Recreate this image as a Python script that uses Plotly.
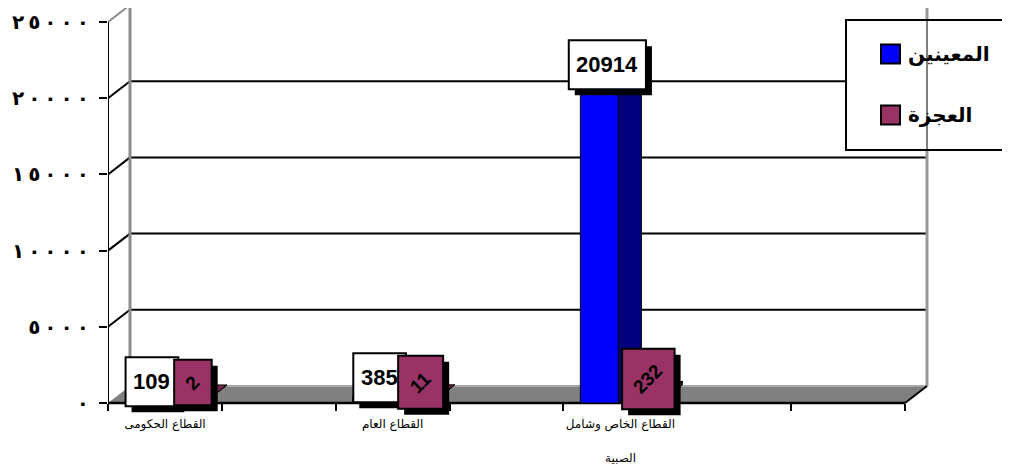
import plotly.graph_objects as go

# ---------------- data ----------------
categories = ["القطاع الحكومى", "القطاع العام", "القطاع الخاص وشامل\nالصبية"]
cat_slots = [0.5, 2.5, 4.5]          # category centres on a 7-slot category axis
slot_ticks = [0, 1, 2, 3, 4, 5, 6, 7]
appointed = [109, 385, 20914]        # المعينين
disabled = [2, 11, 232]              # العجزة
series_names = ["المعينين", "العجزة"]
y_tickvals = [0, 5000, 10000, 15000, 20000, 25000]

# ---------------- style ----------------
front_colors = ["#0000FF", "#993366"]
side_colors = ["#000080", "#4D1A33"]
top_colors = ["#0000B0", "#73264D"]
label_fill = ["white", "#993366"]
AR_FONT = "DejaVu Sans"
NUM_FONT = "Liberation Sans"

PAGE_OFF = 8                            # default body margin of the html page
W, H = 1010 - PAGE_OFF, 468 - PAGE_OFF
# geometry below is given in window pixels
PL, PR, PT, PB = 108, 935, 8, 440       # plot area
X0_PX, X7_PX = 108, 905                 # front x-axis extent
Y0_PX, YTOP_PX = 403, 22                # front value axis: 0 and 25000
YMAX = 25000
DX_PX, DY_PX = 22, 17                   # wall depth
BDX_PX, BDY_PX = 23, 18                 # bar depth
BAR_OFF_PX = [(-40, -2), (1, 39)]       # bar extents relative to category centre

ux = (X7_PX - X0_PX) / 7.0
uy = (Y0_PX - YTOP_PX) / YMAX
x_range = [(PL - X0_PX) / ux, (PR - X0_PX) / ux]
y_range = [-(PB - Y0_PX) / uy, (Y0_PX - PT) / uy]
dx, dy = DX_PX / ux, DY_PX / uy
bdx, bdy = BDX_PX / ux, BDY_PX / uy
XN = slot_ticks[-1]


def pxx(px):
    return (px - PL) / (PR - PL)


def pxy(py):
    return (PB - py) / (PB - PT)


def arabic_digits(v):
    return "\u200e\u2009\u200e".join(chr(0x660 + int(d)) for d in str(v))


shapes = []
annotations = []


def seg(x0, y0, x1, y1, color, width, layer="below"):
    shapes.append(dict(type="line", xref="x", yref="y", x0=x0, y0=y0, x1=x1, y1=y1,
                       line=dict(color=color, width=width), layer=layer))


# back wall gridlines and left slants
for v in y_tickvals[1:-1]:
    seg(dx, v + dy, XN + dx, v + dy, "black", 2)
    seg(0, v, dx, v + dy, "black", 2)
seg(dx, YMAX + dy, XN + dx, YMAX + dy, "#8C8C8C", 3)
seg(0, YMAX, dx, YMAX + dy, "#8C8C8C", 2)
seg(dx, dy, dx, YMAX + dy, "#8C8C8C", 3)
seg(XN + dx, dy, XN + dx, YMAX + dy, "#999999", 3)

# floor
shapes.append(dict(type="path", xref="x", yref="y", layer="below",
                   path=f"M 0,0 L {XN},0 L {XN + dx},{dy} L {dx},{dy} Z",
                   fillcolor="#808080", line=dict(width=0)))
seg(dx, dy, XN + dx, dy, "#A6A6A6", 2)
seg(0, 0, XN, 0, "black", 2.5)
seg(XN, 0, XN + dx, dy, "black", 2)
seg(0, 0, 0, YMAX, "black", 2)

fig = go.Figure()

# front faces of the bars
series_vals = [appointed, disabled]
for s, vals in enumerate(series_vals):
    o0, o1 = BAR_OFF_PX[s]
    fig.add_trace(go.Bar(x=cat_slots, y=vals, width=(o1 - o0) / ux, offset=o0 / ux,
                         name=series_names[s], marker=dict(color=front_colors[s],
                         line=dict(color="black", width=1)), showlegend=False,
                         hoverinfo="skip"))

# side and top faces (derived from the same values)
for s, vals in enumerate(series_vals):
    o0, o1 = BAR_OFF_PX[s]
    for c, v in zip(cat_slots, vals):
        xl, xr = c + o0 / ux, c + o1 / ux
        fig.add_trace(go.Scatter(x=[xr, xr + bdx, xr + bdx, xr, xr],
                                 y=[v, v + bdy, bdy, 0, v], mode="lines", fill="toself",
                                 fillcolor=side_colors[s], line=dict(color="black", width=1),
                                 showlegend=False, hoverinfo="skip"))
        fig.add_trace(go.Scatter(x=[xl, xr, xr + bdx, xl + bdx, xl],
                                 y=[v, v, v + bdy, v + bdy, v], mode="lines", fill="toself",
                                 fillcolor=top_colors[s], line=dict(color="black", width=1),
                                 showlegend=False, hoverinfo="skip"))

# data labels (boxes with shadows + text)
for ci, c in enumerate(cat_slots):
    for s, vals in enumerate(series_vals):
        v = vals[ci]
        o0, o1 = BAR_OFF_PX[s]
        bx = c + (o0 + o1) / 2.0 / ux
        txt = str(v)
        if s == 0:
            fs = 22
            bw = 0.556 * fs * len(txt) + 16
            bh = 49
            cx, cy = 8, 19.5
            angle = 0
        else:
            fs = 19
            bw = 0.707 * (0.556 * fs * len(txt) + 0.75 * fs) + 20
            bh = bw + 8
            cx, cy = 8, 20.5
            angle = -45
        for fill, sh, lw in (("black", 6, 0), (label_fill[s], 0, 2)):
            shapes.append(dict(type="rect", xref="x", yref="y", xsizemode="pixel",
                               ysizemode="pixel", xanchor=bx, yanchor=v, layer="above",
                               x0=cx - bw / 2 + sh, x1=cx + bw / 2 + sh,
                               y0=cy - bh / 2 - sh, y1=cy + bh / 2 - sh,
                               fillcolor=fill,
                               line=dict(color="black", width=lw if lw else 0)))
        annotations.append(dict(x=bx, y=v, xref="x", yref="y", text=f"<b>{txt}</b>",
                                showarrow=False, xshift=cx, yshift=cy, textangle=angle,
                                xanchor="center", yanchor="middle",
                                font=dict(family=NUM_FONT, size=fs, color="black")))

# extra lines of multi-line category labels
first_lines = []
for c, cat in zip(cat_slots, categories):
    lines = cat.split("\n")
    first_lines.append(lines[0])
    for k, extra in enumerate(lines[1:], start=1):
        annotations.append(dict(x=c, y=pxy(423 + 35 * k), xref="x", yref="paper",
                                text=extra, showarrow=False, xanchor="center",
                                yanchor="middle",
                                font=dict(family=AR_FONT, size=12, color="black")))

# legend (drawn by hand so the wall edge crosses it as in the original)
shapes.append(dict(type="rect", xref="paper", yref="paper", x0=pxx(846), x1=pxx(1030),
                   y0=pxy(150), y1=pxy(20), fillcolor="white", layer="above",
                   line=dict(color="black", width=2)))
leg_rows = [54, 115]
for s, name in enumerate(series_names):
    yc = leg_rows[s]
    shapes.append(dict(type="rect", xref="paper", yref="paper", x0=pxx(881), x1=pxx(900),
                       y0=pxy(yc + 9.5), y1=pxy(yc - 9.5), fillcolor=front_colors[s],
                       layer="above", line=dict(color="black", width=2)))
    annotations.append(dict(x=pxx(906), y=pxy(yc), xref="paper", yref="paper",
                            text=f"<b>{name}</b>", showarrow=False, xanchor="left",
                            yanchor="middle",
                            font=dict(family=AR_FONT, size=20, color="black")))
shapes.append(dict(type="line", xref="paper", yref="paper", x0=pxx(927), x1=pxx(927),
                   y0=pxy(150), y1=pxy(20), layer="above",
                   line=dict(color="black", width=1)))

fig.update_layout(
    width=W, height=H,
    margin=dict(l=PL - PAGE_OFF, r=W + PAGE_OFF - PR, t=PT - PAGE_OFF,
                b=H + PAGE_OFF - PB, autoexpand=False),
    paper_bgcolor="white", plot_bgcolor="rgba(0,0,0,0)",
    barmode="overlay", showlegend=False,
    shapes=shapes, annotations=annotations,
    xaxis=dict(range=x_range, anchor="free", position=pxy(Y0_PX),
               tickmode="array", tickvals=cat_slots, ticktext=first_lines,
               ticks="", showline=False, showgrid=False, zeroline=False,
               ticklabelstandoff=12,
               tickfont=dict(family=AR_FONT, size=12, color="black"),
               minor=dict(tickmode="array", tickvals=slot_ticks, ticks="outside",
                          ticklen=7, tickwidth=2, tickcolor="black", showgrid=False),
               fixedrange=True),
    yaxis=dict(range=y_range, tickmode="array", tickvals=y_tickvals,
               ticktext=[arabic_digits(v) for v in y_tickvals],
               ticks="outside", ticklen=8, tickwidth=2, tickcolor="black",
               showline=False, showgrid=False, zeroline=False, ticklabelstandoff=6,
               tickfont=dict(family=AR_FONT, size=20, color="black", weight="bold"),
               fixedrange=True),
)

fig.write_html("out.html")
